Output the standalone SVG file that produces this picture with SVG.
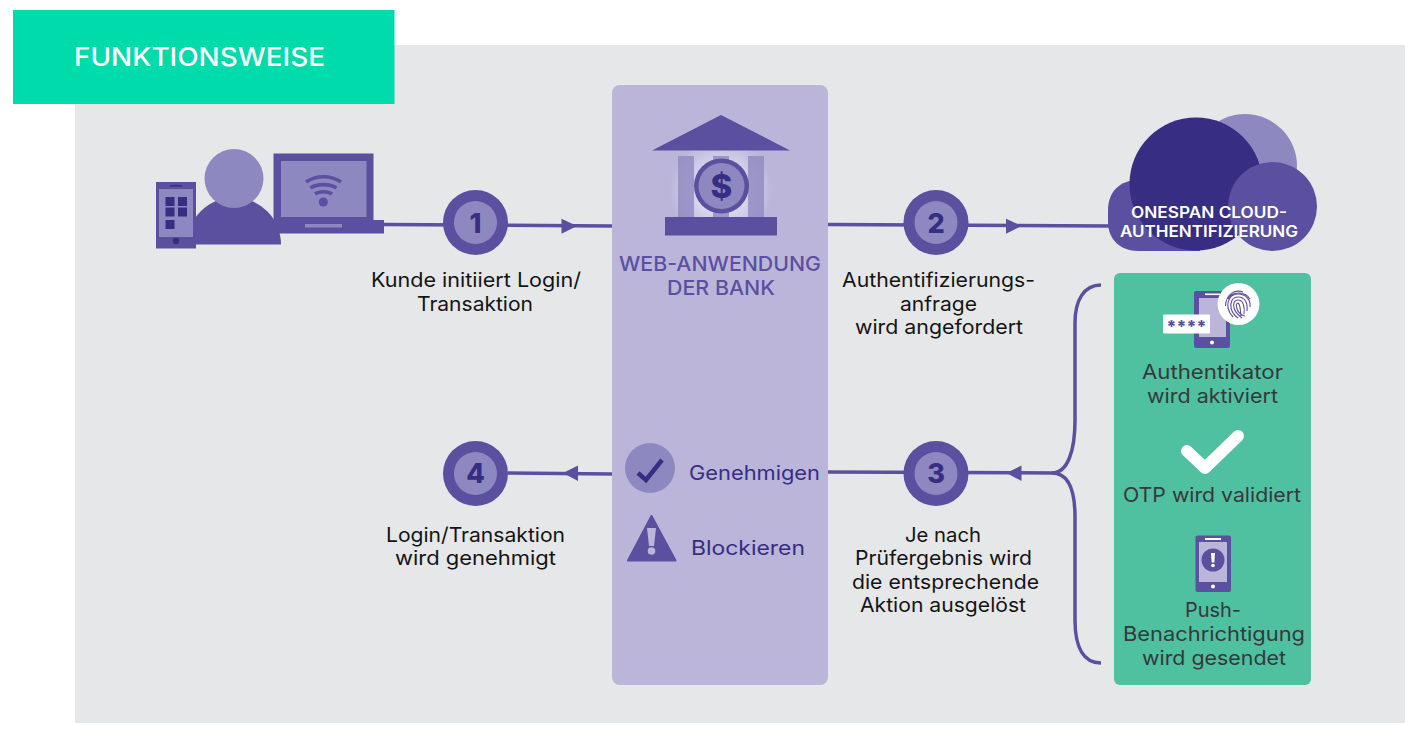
<svg xmlns="http://www.w3.org/2000/svg" width="1422" height="735" viewBox="0 0 1422 735">
<style>
text{font-family:Inter,"Open Sans","Liberation Sans",sans-serif;font-weight:400}
.l{font-size:20px;fill:#141414}
.g{font-size:20px;fill:#35393c}
.p{fill:#5b50a0}.d{fill:#372d82}.m{fill:#8e88c1}.s{fill:#bab5d9}.w{fill:#fff}
.n{font-size:27px;font-weight:800;fill:#372d82;text-anchor:middle}
.c{fill:none;stroke:#5b50a0;stroke-width:3.500}
.f{fill:none;stroke:#5b50a0;stroke-width:1.100}
</style>
<defs>
<radialGradient id="glow" cx="721" cy="190" r="52" gradientUnits="userSpaceOnUse"><stop offset="0.45" stop-color="#d9d9ee"/><stop offset="1" stop-color="#bab5d9"/></radialGradient>
</defs>
<rect x="75" y="45" width="1330" height="678" fill="#e6e7e9"/>
<g id="header"><rect x="13" y="10" width="381.500" height="94" fill="#00dbac"/>
<text x="74" y="66" textLength="251" lengthAdjust="spacingAndGlyphs" font-size="26" fill="#fff" style="font-weight:500">FUNKTIONSWEISE</text></g>

<g id="connectors">
<path class="c" d="M384 224.500L612 226"/>
<path class="c" d="M828 224.500L1110 226"/>
<path class="c" d="M828 472L1055 473"/>
<path class="c" d="M612 474L508 473"/>
<path class="c" d="M1101 285C1084 285 1075 300 1075 323V420C1075 450 1068 473 1052 473C1068 473 1075 490 1075 517V620C1075 648 1084 663 1101 663"/>
<path class="p" d="M561.500 218.700L577 226L561.500 233.700Z"/>
<path class="p" d="M1006 218.700L1021.500 226L1006 233.700Z"/>
<path class="p" d="M1021.500 465.500L1006.500 473L1021.500 481Z"/>
<path class="p" d="M578 465.500L563 473L578 481Z"/>
</g>

<g id="user">
<path class="p" d="M187 244.500A47 47 0 0 1 281 244.500Z"/>
<circle class="m" cx="234" cy="178.500" r="29.500"/>
<rect class="p" x="156" y="182" width="40" height="66.500"/>
<rect class="m" x="159" y="189" width="34" height="48"/>
<rect class="d" x="170" y="185" width="12" height="1.500"/>
<circle class="d" cx="176" cy="241" r="3.200"/>
<path class="d" d="M165.500 197h9v9h-9zM178 197h9v9h-9zM165.500 207.500h9v9h-9zM178 207.500h9v9h-9zM165.500 220h9v9h-9z"/>
<rect class="p" x="273.500" y="153.500" width="100" height="70"/>
<rect class="p" x="273.500" y="220" width="110.500" height="13.500"/>
<rect class="m" x="281" y="161" width="85.500" height="56"/>
<rect class="m" x="305" y="224" width="37" height="3.500"/>
<circle class="p" cx="323.300" cy="202" r="4.600"/>
<path d="M306 182C316 175 331 175 341 182M310.500 188C317 183.500 330 183.500 336.500 188M315 194C319 191 328 191 332 194" fill="none" stroke="#5b50a0" stroke-width="3.600"/>
</g>

<g id="step1"><circle class="p" cx="475.500" cy="222.500" r="32.500"/><circle class="m" cx="475.500" cy="222.500" r="21.500"/><text class="n" x="475.500" y="232.500">1</text></g>
<g id="step1-label">
<text class="l" x="371" y="287" textLength="210" lengthAdjust="spacingAndGlyphs">Kunde initiiert Login/</text>
<text class="l" x="417" y="311" textLength="116" lengthAdjust="spacingAndGlyphs">Transaktion</text></g>

<g id="bank">
<rect class="s" x="612" y="85" width="216" height="600" rx="8"/>
<rect x="665" y="140" width="112" height="90" fill="url(#glow)"/>
<g fill="#8e88c1" fill-opacity=".8">
<rect x="678" y="156" width="16" height="62"/>
<rect x="713" y="156" width="16" height="62"/>
<rect x="748" y="156" width="16" height="62"/></g>
<path class="p" d="M652 150.500L721 115L790 150.500Z"/>
<rect class="p" x="665" y="217" width="112" height="18.500"/>
<circle class="p" cx="721.500" cy="186" r="27.500"/>
<circle class="m" cx="721.500" cy="186" r="23"/>
<text x="721.500" y="198" font-size="33" text-anchor="middle" style="font-weight:800;fill:#372d82">$</text>
<text x="619" y="271" textLength="202" lengthAdjust="spacingAndGlyphs" font-size="20" style="font-weight:500;fill:#5b50a0">WEB-ANWENDUNG</text>
<text x="667" y="295" textLength="108" lengthAdjust="spacingAndGlyphs" font-size="20" style="font-weight:500;fill:#5b50a0">DER BANK</text>
</g>
<g id="approve">
<circle class="m" cx="650" cy="468" r="25"/>
<path d="M638 473L646 480L662 460" fill="none" stroke="#372d82" stroke-width="4.500"/>
<text x="689" y="480" textLength="131" lengthAdjust="spacingAndGlyphs" font-size="20" style="fill:#372d82">Genehmigen</text></g>
<g id="block">
<path class="p" stroke="#5b50a0" stroke-width="2" stroke-linejoin="round" d="M651.500 516L628 560.500H675.500Z"/>
<path class="s" d="M647 528H656L654 546H649Z"/><circle class="s" cx="651.500" cy="551" r="3.800"/>
<text x="691" y="555" textLength="114" lengthAdjust="spacingAndGlyphs" font-size="20" style="fill:#372d82">Blockieren</text></g>

<g id="step2"><circle class="p" cx="936" cy="222.500" r="32.500"/><circle class="m" cx="936" cy="222.500" r="21.500"/><text class="n" x="936" y="232.500">2</text></g>
<g id="step2-label">
<text class="l" x="842" y="287" textLength="193" lengthAdjust="spacingAndGlyphs">Authentifizierungs-</text>
<text class="l" x="900" y="311" textLength="77" lengthAdjust="spacingAndGlyphs">anfrage</text>
<text class="l" x="855" y="334" textLength="168" lengthAdjust="spacingAndGlyphs">wird angefordert</text></g>

<g id="cloud">
<circle class="m" cx="1245" cy="166" r="52"/>
<path class="p" d="M1138 180H1200V251H1138C1120 251 1108 239 1108 222V210C1108 192 1120 180 1138 180Z"/>
<circle class="d" cx="1196" cy="184" r="66.500"/>
<circle class="p" cx="1272.500" cy="206.500" r="44.500"/>
<text x="1131" y="218" textLength="156" lengthAdjust="spacingAndGlyphs" font-size="15.500" style="font-weight:600;fill:#fff">ONESPAN CLOUD-</text>
<text x="1120" y="237" textLength="178" lengthAdjust="spacingAndGlyphs" font-size="15.500" style="font-weight:600;fill:#fff">AUTHENTIFIZIERUNG</text></g>

<g id="methods">
<rect x="1114" y="273" width="197" height="412" rx="6" fill="#4fc0a0"/>
<rect class="p" x="1194" y="291" width="36" height="57" rx="2"/>
<rect class="s" x="1199" y="298" width="27" height="39"/>
<rect class="w" x="1205" y="293.500" width="15" height="1.600"/>
<circle class="w" cx="1212" cy="342.500" r="2"/>
<rect class="w" x="1163" y="314.500" width="47" height="19" rx="1"/>
<text x="1186.500" y="333" font-size="17" text-anchor="middle" textLength="40" lengthAdjust="spacing" style="font-weight:800;fill:#5b50a0">****</text>
<circle class="w" cx="1238.500" cy="304" r="21"/>
<path class="f" d="M1228 299C1232 291 1245 291 1250 299M1225.500 306C1226 294 1235 289 1243 292M1250 307C1251 300 1246 294 1238 294C1231 294 1227 300 1228 308C1229 312 1231 315 1233 317M1247 311C1248 303 1245 297 1238 297C1232 297 1230 303 1231 308C1232 312 1235 316 1238 318M1244 314C1245 306 1243 300 1238 300C1234 300 1233 304 1234 308C1235 312 1238 315 1242 318M1241 316C1240 311 1241 305 1238 303C1236 303 1236 306 1237 309C1238 312 1241 315 1245 316"/>
<text class="g" x="1142" y="379" textLength="141" lengthAdjust="spacingAndGlyphs">Authentikator</text>
<text class="g" x="1147" y="403" textLength="131" lengthAdjust="spacingAndGlyphs">wird aktiviert</text>
<path d="M1187 451L1205 468L1238 436" fill="none" stroke="#fff" stroke-width="12" stroke-linecap="round" stroke-linejoin="round"/>
<text class="g" x="1123" y="502" textLength="178" lengthAdjust="spacingAndGlyphs">OTP wird validiert</text>
<rect class="p" x="1195.500" y="535.500" width="35.500" height="56.500" rx="2"/>
<rect class="s" x="1199" y="542" width="28" height="40"/>
<rect class="w" x="1205" y="538" width="16" height="2"/>
<circle class="w" cx="1213" cy="586.500" r="2"/>
<circle class="p" cx="1213" cy="560" r="11.500"/>
<path class="w" d="M1211 553H1215L1214.300 562.500H1211.700Z"/><circle class="w" cx="1213" cy="565.500" r="1.800"/>
<text class="g" x="1185" y="617" textLength="56" lengthAdjust="spacingAndGlyphs">Push-</text>
<text class="g" x="1123" y="641" textLength="182" lengthAdjust="spacingAndGlyphs">Benachrichtigung</text>
<text class="g" x="1142" y="665" textLength="144" lengthAdjust="spacingAndGlyphs">wird gesendet</text>
</g>

<g id="step3"><circle class="p" cx="936" cy="473.500" r="32.500"/><circle class="m" cx="936" cy="473.500" r="21.500"/><text class="n" x="936" y="483">3</text></g>
<g id="step3-label">
<text class="l" x="905" y="542" textLength="76" lengthAdjust="spacingAndGlyphs">Je nach</text>
<text class="l" x="855" y="565" textLength="177" lengthAdjust="spacingAndGlyphs">Prüfergebnis wird</text>
<text class="l" x="852" y="589" textLength="187" lengthAdjust="spacingAndGlyphs">die entsprechende</text>
<text class="l" x="860" y="612" textLength="166" lengthAdjust="spacingAndGlyphs">Aktion ausgelöst</text></g>

<g id="step4"><circle class="p" cx="475.500" cy="473.500" r="32.500"/><circle class="m" cx="475.500" cy="473.500" r="21.500"/><text class="n" x="475.500" y="483">4</text></g>
<g id="step4-label">
<text class="l" x="386" y="542" textLength="179" lengthAdjust="spacingAndGlyphs">Login/Transaktion</text>
<text class="l" x="395" y="565" textLength="161" lengthAdjust="spacingAndGlyphs">wird genehmigt</text></g>
</svg>
